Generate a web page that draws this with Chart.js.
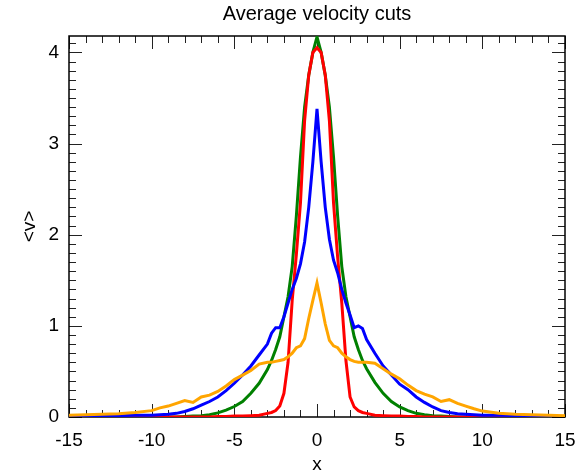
<!DOCTYPE html>
<html>
<head>
<meta charset="utf-8">
<script src="https://cdn.jsdelivr.net/npm/chart.js@4.4.0/dist/chart.umd.min.js"></script>
<style>
    html, body { margin: 0; padding: 0; background: #fff; }
</style>
</head>
<body>
<canvas id="cuts-chart" width="583" height="474"></canvas>
<script>
'use strict';

// x positions of the cuts (finer near the centre)
const xs = [-15, -14, -13, -12, -11, -10,
    -9.5, -9, -8.5, -8, -7.5, -7, -6.5, -6, -5.5, -5, -4.5, -4, -3.5, -3,
    -2.75, -2.5, -2.25, -2, -1.75, -1.5, -1.25, -1, -0.75, -0.5, -0.25,
    0,
    0.25, 0.5, 0.75, 1, 1.25, 1.5, 1.75, 2, 2.25, 2.5, 2.75,
    3, 3.5, 4, 4.5, 5, 5.5, 6, 6.5, 7, 7.5, 8, 8.5, 9, 9.5,
    10, 11, 12, 13, 14, 15];

const redCut = [0, 0, 0, 0, 0, 0,
    0, 0, 0, 0, 0, 0, 0, 0.005, 0.005, 0.01, 0.01, 0.015, 0.02, 0.04,
    0.05, 0.07, 0.12, 0.26, 0.6, 1.28, 1.78, 2.35, 3.25, 3.75, 4.0,
    4.05,
    4.0, 3.75, 3.25, 2.35, 1.75, 1.25, 0.62, 0.22, 0.11, 0.07, 0.05,
    0.04, 0.02, 0.015, 0.01, 0.01, 0.005, 0.005, 0, 0, 0, 0, 0, 0, 0,
    0, 0, 0, 0, 0, 0];

const greenCut = [0, 0, 0, 0, 0, 0,
    0, 0, 0, 0.005, 0.01, 0.015, 0.025, 0.045, 0.075, 0.115, 0.17, 0.26, 0.37, 0.52,
    0.62, 0.74, 0.88, 1.1, 1.32, 1.65, 2.2, 2.85, 3.4, 3.75, 4.0,
    4.17,
    4.0, 3.75, 3.4, 2.85, 2.2, 1.65, 1.32, 1.1, 0.88, 0.74, 0.62,
    0.53, 0.38, 0.26, 0.17, 0.11, 0.07, 0.04, 0.025, 0.015, 0.01, 0.005, 0, 0, 0,
    0, 0, 0, 0, 0, 0];

const blueCut = [0, 0.005, 0.01, 0.015, 0.02, 0.02,
    0.025, 0.03, 0.04, 0.06, 0.09, 0.13, 0.17, 0.22, 0.29, 0.37, 0.46, 0.56, 0.68, 0.8,
    0.92, 0.98, 0.98, 1.1, 1.25, 1.4, 1.52, 1.68, 1.92, 2.3, 2.8,
    3.38,
    2.8, 2.3, 1.95, 1.72, 1.58, 1.4, 1.25, 1.12, 0.98, 1.0, 0.97,
    0.85, 0.7, 0.56, 0.46, 0.36, 0.3, 0.22, 0.16, 0.11, 0.07, 0.05, 0.035, 0.03, 0.025,
    0.02, 0.02, 0.015, 0.01, 0.005, 0];

const orangeCut = [0.02, 0.025, 0.03, 0.035, 0.05, 0.07,
    0.1, 0.12, 0.15, 0.18, 0.16, 0.22, 0.24, 0.28, 0.34, 0.41, 0.46, 0.51, 0.58, 0.6,
    0.6, 0.61, 0.62, 0.63, 0.66, 0.7, 0.76, 0.78, 0.86, 1.08, 1.28,
    1.47,
    1.25, 1.02, 0.84, 0.78, 0.76, 0.7, 0.66, 0.63, 0.61, 0.6, 0.6,
    0.6, 0.59, 0.53, 0.47, 0.42, 0.35, 0.29, 0.25, 0.22, 0.17, 0.19, 0.15, 0.12, 0.09,
    0.065, 0.04, 0.03, 0.025, 0.02, 0.015];

const X_MIN = -15, X_MAX = 15, X_MINOR = 1, X_MAJOR = 5;
const Y_MIN = 0, Y_MAX = 4.18, Y_MINOR = 0.1, Y_MAJOR = 1;

const FONT = 'Liberation Sans, Arial, Helvetica, sans-serif';

function toPoints(ys) {
    return xs.map((x, i) => ({ x: x, y: ys[i] }));
}

function cutDataset(ys, color) {
    return {
        data: toPoints(ys),
        borderColor: color,
        borderWidth: 3,
        pointRadius: 0,
        tension: 0,
        fill: false
    };
}

// IDL-style box with inward ticks on all four sides
const boxTicks = {
    id: 'boxTicks',
    beforeDatasetsDraw(chart) {
        const { ctx, chartArea: a, scales: { x, y } } = chart;
        ctx.save();
        ctx.strokeStyle = '#222';
        ctx.lineWidth = 1;
        ctx.beginPath();
        const nx = Math.round((X_MAX - X_MIN) / X_MINOR);
        for (let i = 0; i <= nx; i++) {
            const v = X_MIN + i * X_MINOR;
            const px = Math.round(x.getPixelForValue(v)) + 0.5;
            const len = Math.abs(v % X_MAJOR) < 1e-6 ? 13 : 7;
            ctx.moveTo(px, a.bottom);
            ctx.lineTo(px, a.bottom - len);
            ctx.moveTo(px, a.top);
            ctx.lineTo(px, a.top + len);
        }
        const ny = Math.floor((Y_MAX - Y_MIN) / Y_MINOR + 1e-6);
        for (let i = 0; i <= ny; i++) {
            const v = Y_MIN + i * Y_MINOR;
            const py = Math.round(y.getPixelForValue(v)) + 0.5;
            const len = i % Math.round(Y_MAJOR / Y_MINOR) === 0 ? 13 : 7;
            ctx.moveTo(a.left, py);
            ctx.lineTo(a.left + len, py);
            ctx.moveTo(a.right, py);
            ctx.lineTo(a.right - len, py);
        }
        ctx.stroke();
        ctx.strokeStyle = '#000';
        ctx.lineWidth = 1.5;
        ctx.strokeRect(a.left, a.top, a.right - a.left, a.bottom - a.top);
        ctx.restore();
    }
};

const ctx = document.getElementById('cuts-chart').getContext('2d');

new Chart(ctx, {
    type: 'line',
    data: {
        datasets: [
            cutDataset(orangeCut, '#ffa500'),
            cutDataset(blueCut, '#0000ff'),
            cutDataset(redCut, '#ff0000'),
            cutDataset(greenCut, '#008000')
        ]
    },
    options: {
        responsive: false,
        devicePixelRatio: 1,
        animation: false,
        layout: { padding: { left: 0, right: 18, top: 0, bottom: 0 } },
        plugins: {
            legend: { display: false },
            tooltip: { enabled: false },
            title: {
                display: true,
                fullSize: false,
                text: 'Average velocity cuts',
                color: '#000',
                font: { family: FONT, size: 20, weight: 'normal', lineHeight: 1.2 },
                padding: { top: 2, bottom: 10 }
            }
        },
        scales: {
            x: {
                type: 'linear',
                min: X_MIN,
                max: X_MAX,
                grid: { display: false, drawTicks: false },
                border: { display: false },
                ticks: {
                    stepSize: X_MAJOR,
                    padding: 12,
                    color: '#000',
                    maxRotation: 0,
                    font: { family: FONT, size: 19 }
                },
                title: {
                    display: true,
                    text: 'x',
                    color: '#000',
                    font: { family: FONT, size: 19, lineHeight: 1 },
                    padding: { top: 0, bottom: 0 }
                },
                afterFit(scale) {
                    // labels at the ends may hang past the box, like the original
                    scale.height = 57;
                    scale.paddingLeft = 0;
                    scale.paddingRight = 0;
                }
            },
            y: {
                type: 'linear',
                min: Y_MIN,
                max: Y_MAX,
                grid: { display: false, drawTicks: false },
                border: { display: false },
                ticks: {
                    stepSize: Y_MAJOR,
                    includeBounds: false,
                    padding: 10,
                    color: '#000',
                    font: { family: FONT, size: 19 }
                },
                title: {
                    display: true,
                    text: '<v>',
                    color: '#000',
                    font: { family: FONT, size: 19, lineHeight: 1.2 },
                    padding: { top: 18, bottom: 0 }
                },
                afterFit(scale) { scale.width = 69; }
            }
        }
    },
    plugins: [boxTicks]
});
</script>
</body>
</html>
